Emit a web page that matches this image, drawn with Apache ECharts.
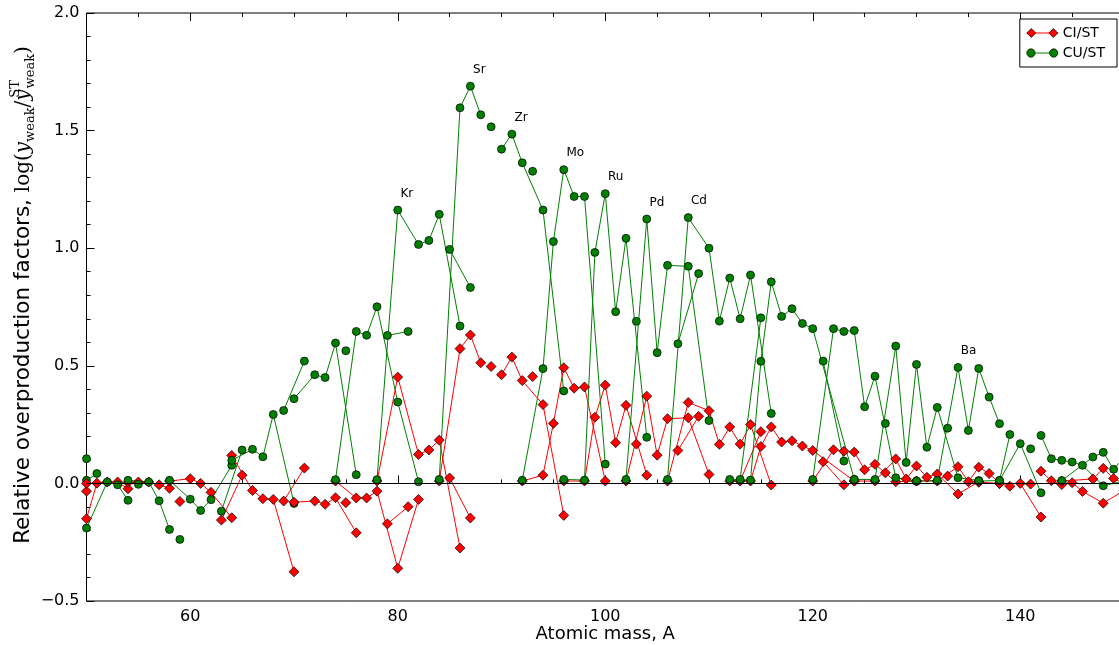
<!DOCTYPE html>
<html><head><meta charset="utf-8">
<script src="https://cdn.jsdelivr.net/npm/echarts@6/dist/echarts.min.js"></script>
<style>html,body{margin:0;padding:0;background:#fff}#chart{width:1119px;height:645px}</style>
</head><body><div id="chart"></div>
<script>
// ---- data (isotope chains) ----
const isotopeElement = [
 'Ti','V','V','Cr','Cr','Cr','Cr','Mn','Fe','Fe','Fe','Fe','Co','Ni','Ni','Ni','Ni','Ni','Cu','Cu',
 'Zn','Zn','Zn','Zn','Zn','Ga','Ga','Ge','Ge','Ge','Ge','Ge','As','Se','Se','Se','Se','Se','Se','Br','Br',
 'Kr','Kr','Kr','Kr','Kr','Kr','Rb','Rb','Sr','Sr','Sr','Sr','Y','Zr','Zr','Zr','Zr','Zr','Nb',
 'Mo','Mo','Mo','Mo','Mo','Mo','Mo','Ru','Ru','Ru','Ru','Ru','Ru','Ru','Rh',
 'Pd','Pd','Pd','Pd','Pd','Pd','Ag','Ag','Cd','Cd','Cd','Cd','Cd','Cd','Cd','Cd','In','In',
 'Sn','Sn','Sn','Sn','Sn','Sn','Sn','Sn','Sn','Sb','Sb','Te','Te','Te','Te','Te','Te','Te','Te','I',
 'Xe','Xe','Xe','Xe','Xe','Xe','Xe','Xe','Xe','Cs','Ba','Ba','Ba','Ba','Ba','Ba','Ba','La','La',
 'Ce','Ce','Ce','Ce','Pr','Nd','Nd','Nd','Nd','Nd','Nd','Nd','Sm','Sm','Sm','Sm','Sm'
];
const isotopeMass = [
 50,50,51,50,52,53,54,55,54,56,57,58,59,58,60,61,62,64,63,65,
 64,66,67,68,70,69,71,70,72,73,74,76,75,74,76,77,78,80,82,79,81,
 78,80,82,83,84,86,85,87,84,86,87,88,89,90,91,92,94,96,93,
 92,94,95,96,97,98,100,96,98,99,100,101,102,104,103,
 102,104,105,106,108,110,107,109,106,108,110,111,112,113,114,116,113,115,
 112,114,115,116,117,118,119,120,124,121,123,120,122,123,124,125,126,128,130,127,
 124,126,128,129,130,131,132,134,136,133,130,132,134,135,136,137,138,138,139,
 136,138,140,142,141,142,143,144,145,146,148,150,144,147,148,149,150
];
const ciOverST = [
 -0.033,-0.150,0.001,0.000,0.006,0.006,-0.023,0.006,0.004,0.006,-0.006,-0.021,-0.077,0.010,0.020,0.000,-0.038,-0.146,-0.156,0.035,
 0.119,-0.030,-0.065,-0.068,-0.376,-0.075,0.065,-0.080,-0.075,-0.089,-0.061,-0.210,-0.082,0.010,-0.062,-0.062,-0.033,-0.361,-0.068,-0.172,-0.099,
 0.010,0.452,0.123,0.142,0.184,-0.275,0.023,-0.147,0.010,0.573,0.631,0.513,0.497,0.462,0.537,0.437,0.335,-0.136,0.454,
 0.010,0.035,0.255,0.492,0.405,0.410,0.010,0.010,0.010,0.281,0.418,0.173,0.332,0.035,0.167,
 0.010,0.371,0.120,0.275,0.279,0.038,0.140,0.285,0.010,0.344,0.309,0.166,0.240,0.167,0.250,-0.007,0.010,0.220,
 0.010,0.010,0.157,0.240,0.176,0.181,0.159,0.140,0.010,0.092,-0.006,0.010,0.143,0.137,0.133,0.058,0.081,0.007,0.010,0.045,
 0.010,0.010,0.104,0.019,0.074,0.026,0.040,-0.045,0.007,0.031,0.010,0.010,0.071,0.007,0.069,0.042,0.000,0.000,-0.012,
 0.005,0.000,0.000,-0.143,-0.003,0.052,0.011,-0.005,0.003,-0.034,-0.084,-0.030,0.010,0.019,0.064,0.021,0.000
];
const cuOverST = [
 0.105,0.013,0.042,-0.190,0.006,-0.006,-0.072,-0.004,0.013,0.006,-0.074,-0.196,-0.238,0.013,-0.067,-0.115,-0.069,0.077,-0.118,0.142,
 0.098,0.145,0.113,0.293,-0.085,0.310,0.520,0.360,0.462,0.450,0.597,0.037,0.564,0.016,0.646,0.630,0.751,0.346,0.007,0.629,0.646,
 0.016,1.162,1.016,1.033,1.144,0.669,0.995,0.833,0.017,1.597,1.689,1.567,1.516,1.421,1.485,1.363,1.162,0.393,1.327,
 0.013,0.488,1.028,1.334,1.220,1.220,0.082,0.017,0.014,0.982,1.232,0.730,1.042,0.196,0.689,
 0.017,1.124,0.556,0.927,0.923,0.267,0.594,0.892,0.017,1.130,1.000,0.690,0.873,0.700,0.886,0.297,0.017,0.704,
 0.017,0.014,0.519,0.857,0.710,0.743,0.680,0.658,0.017,0.520,0.095,0.017,0.658,0.646,0.650,0.326,0.456,0.024,0.010,0.255,
 0.017,0.017,0.584,0.089,0.506,0.154,0.323,0.024,0.012,0.235,0.010,0.012,0.493,0.225,0.489,0.367,0.254,0.012,0.208,
 0.010,0.012,0.169,-0.040,0.147,0.204,0.105,0.098,0.091,0.077,-0.010,0.010,0.012,0.112,0.132,0.060,0.110
];
const peakLabelElements = ['Kr','Sr','Zr','Mo','Ru','Pd','Cd','Ba'];
const peakLabelMasses   = [80, 87, 91, 96, 100, 104, 108, 134];
const xMajorTicks = [60, 80, 100, 120, 140];
const seriesNames = ['CI/ST', 'CU/ST'];
const seriesColors = ['#ff0000', '#008000'];

// ---- build chains (one line per element, per model) ----
const chains = [];
const chainIndex = {};
isotopeElement.forEach((el, i) => {
  if (!(el in chainIndex)) { chainIndex[el] = chains.length; chains.push({ el: el, idx: [] }); }
  chains[chainIndex[el]].idx.push(i);
});

const FONT = 'DejaVu Sans';
const SERIF = 'DejaVu Serif';
const series = [];
chains.forEach((ch, ci) => {
  [ciOverST, cuOverST].forEach((vals, m) => {
    const data = ch.idx.map(i => {
      const item = { value: [isotopeMass[i], vals[i]] };
      if (m === 1) {
        const k = peakLabelElements.indexOf(ch.el);
        if (k >= 0 && peakLabelMasses[k] === isotopeMass[i]) {
          item.label = { show: true, formatter: ch.el, position: [7, -12], align: 'left',
            verticalAlign: 'middle', fontSize: 12, fontFamily: FONT, color: '#000' };
        }
      }
      return item;
    });
    const s = {
      name: seriesNames[m], type: 'line', xAxisIndex: 0, yAxisIndex: 0,
      data: data,
      symbol: m === 0 ? 'diamond' : 'circle',
      symbolSize: m === 0 ? 10 : 8,
      showAllSymbol: true,
      lineStyle: { color: seriesColors[m], width: 1 },
      itemStyle: { color: seriesColors[m], borderColor: '#000', borderWidth: 0.7 },
      emphasis: { disabled: true },
      animation: false
    };
    if (ci === 0 && m === 0) {
      s.markLine = { silent: true, symbol: 'none', animation: false,
        data: [{ yAxis: 0 }], label: { show: false },
        lineStyle: { color: '#000', width: 1, type: 'solid' } };
    }
    series.push(s);
  });
});

const gridRect = { left: 86.5, right: -5, top: 13, bottom: 44 };
const legendCommon = {
  orient: 'vertical', right: 2, top: 19, padding: [7, 12, 7, 7], itemGap: 6,
  itemWidth: 31, itemHeight: 10, textStyle: { fontSize: 14, fontFamily: FONT, color: '#000' }
};

const option = {
  animation: false,
  backgroundColor: '#fff',
  grid: [
    Object.assign({ show: true, borderColor: '#000', borderWidth: 1, backgroundColor: 'transparent',
      containLabel: false, outerBoundsMode: 'none' }, gridRect),
    Object.assign({ show: false, containLabel: false, outerBoundsMode: 'none' }, gridRect)
  ],
  legend: [
    Object.assign({}, legendCommon, {
      borderColor: '#000', borderWidth: 1, borderRadius: 0, backgroundColor: '#fff',
      itemStyle: { borderWidth: 0 },
      data: [
        { name: 'CI/ST', icon: 'path://M0,4.5 L31,4.5 L31,5.5 L0,5.5 Z' },
        { name: 'CU/ST', icon: 'path://M0,4.5 L31,4.5 L31,5.5 L0,5.5 Z' }
      ]
    }),
    Object.assign({}, legendCommon, {
      borderWidth: 0, backgroundColor: 'transparent',
      textStyle: { fontSize: 14, fontFamily: FONT, color: 'rgba(0,0,0,0)' },
      itemStyle: { borderColor: '#000', borderWidth: 0.7 },
      data: [
        { name: 'CI/ST', icon: 'path://M0,5 L4.5,0.5 L9,5 L4.5,9.5 Z M22,5 L26.5,0.5 L31,5 L26.5,9.5 Z' },
        { name: 'CU/ST', icon: 'path://M0.5,5 A4,4 0 1 1 8.5,5 A4,4 0 1 1 0.5,5 Z M22.5,5 A4,4 0 1 1 30.5,5 A4,4 0 1 1 22.5,5 Z' }
      ]
    })
  ],
  xAxis: [
    { type: 'value', gridIndex: 0, position: 'bottom', min: 50, max: 150, interval: 10,
      axisLine: { show: false }, splitLine: { show: false },
      axisTick: { show: true, inside: true, length: 8, customValues: xMajorTicks, lineStyle: { color: '#000', width: 1 } },
      axisLabel: { customValues: xMajorTicks, fontSize: 16, fontFamily: FONT, color: '#000', margin: 8,
        formatter: v => (v % 20 === 0 ? String(v) : '') },
      name: 'Atomic mass, A', nameLocation: 'middle', nameGap: 24, nameMoveOverlap: false,
      nameTextStyle: { fontSize: 18, fontFamily: FONT, color: '#000' } },
    { type: 'value', gridIndex: 0, position: 'top', min: 50, max: 150, interval: 10,
      axisLine: { show: false }, splitLine: { show: false },
      axisTick: { show: true, inside: true, length: 8, customValues: xMajorTicks, lineStyle: { color: '#000', width: 1 } },
      axisLabel: { show: false } },
    { type: 'value', gridIndex: 1, position: 'bottom', min: 50, max: 150, interval: 5,
      axisLine: { show: false }, splitLine: { show: false },
      axisTick: { show: true, inside: true, length: 4, lineStyle: { color: '#000', width: 1 } },
      axisLabel: { show: false } },
    { type: 'value', gridIndex: 1, position: 'top', min: 50, max: 150, interval: 5,
      axisLine: { show: false }, splitLine: { show: false },
      axisTick: { show: true, inside: true, length: 4, lineStyle: { color: '#000', width: 1 } },
      axisLabel: { show: false } }
  ],
  yAxis: [
    { type: 'value', gridIndex: 0, position: 'left', min: -0.5, max: 2.0, interval: 0.5,
      axisLine: { show: false }, splitLine: { show: false },
      axisTick: { show: true, inside: true, length: 8, lineStyle: { color: '#000', width: 1 } },
      minorTick: { show: true, splitNumber: 5, length: 4, lineStyle: { color: '#000', width: 1 } },
      axisLabel: { fontSize: 16, fontFamily: FONT, color: '#000', margin: 7,
        formatter: v => (v < 0 ? '\u2212' : '') + Math.abs(v).toFixed(1) },
      name: '{t|Relative overproduction factors, }{m|log(}{i|y}{s|weak}{m|/}{i|y}{p|ST}{s|weak}{m|)}',
      nameLocation: 'middle', nameRotate: 90, nameGap: 49, nameMoveOverlap: false,
      nameTextStyle: {
        color: '#000',
        padding: [0, 0, 0, 24],
        rich: {
          t: { fontSize: 21.5, fontFamily: FONT, color: '#000', lineHeight: 28, verticalAlign: 'middle' },
          m: { fontSize: 20, fontFamily: SERIF, color: '#000', lineHeight: 28, verticalAlign: 'middle' },
          i: { fontSize: 20, fontFamily: SERIF, fontStyle: 'italic', color: '#000', lineHeight: 28, verticalAlign: 'middle' },
          s: { fontSize: 13, fontFamily: SERIF, color: '#000', lineHeight: 13, verticalAlign: 'bottom' },
          p: { fontSize: 13, fontFamily: SERIF, color: '#000', lineHeight: 13, verticalAlign: 'top', width: 1 }
        }
      } },
    { type: 'value', gridIndex: 1, position: 'left', min: -0.5, max: 2.0, interval: 0.5,
      axisLine: { show: false }, splitLine: { show: false }, axisTick: { show: false }, axisLabel: { show: false } }
  ],
  series: series
};

const chart = echarts.init(document.getElementById('chart'), null, { renderer: 'canvas' });
chart.setOption(option);
</script>
</body></html>
